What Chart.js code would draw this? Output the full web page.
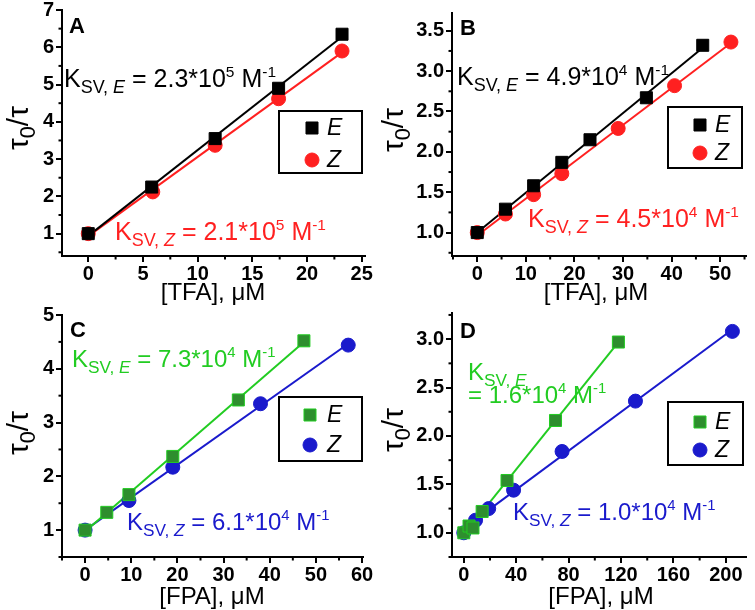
<!DOCTYPE html>
<html>
<head>
<meta charset="utf-8">
<script src="https://cdn.jsdelivr.net/npm/chart.js@4.4.0/dist/chart.umd.min.js"></script>
<style>
body { margin: 0; background: #fff; width: 755px; height: 610px; position: relative; overflow: hidden; }
canvas { position: absolute; }
</style>
</head>
<body>
<canvas id="cA" width="375" height="305" style="left:0;top:0"></canvas>
<canvas id="cB" width="380" height="305" style="left:375px;top:0"></canvas>
<canvas id="cC" width="375" height="310" style="left:0;top:300px"></canvas>
<canvas id="cD" width="380" height="310" style="left:375px;top:300px"></canvas>
<script>
// -------- DATA --------
// A : TFA, black E / red Z
const tfaE_A = [0, 5.8, 11.6, 17.4, 23.2];
const tauE_A = [1, 2.25, 3.55, 4.9, 6.35];
const tfaZ_A = [0, 5.9, 11.6, 17.4, 23.2];
const tauZ_A = [1, 2.12, 3.37, 4.62, 5.9];

// B : TFA
const tfaE_B = [0, 5.8, 11.6, 17.4, 23.2, 34.8, 46.4];
const tauE_B = [1, 1.29, 1.58, 1.87, 2.15, 2.67, 3.32];
const tfaZ_B = [0, 5.8, 11.6, 17.4, 29, 40.6, 52.2];
const tauZ_B = [1, 1.23, 1.47, 1.73, 2.29, 2.82, 3.36];

// C : FPA, green E / blue Z
const fpaE_C = [0, 4.7, 9.5, 19, 33.2, 47.4];
const tauE_C = [1, 1.33, 1.66, 2.37, 3.42, 4.52];
const fpaZ_C = [0, 9.5, 19, 38, 57];
const tauZ_C = [1, 1.55, 2.17, 3.35, 4.44];

// D : FPA
const fpaE_D = [0, 4, 7, 14, 33, 70, 118];
const tauE_D = [1, 1.07, 1.05, 1.22, 1.54, 2.16, 2.97];
const fpaZ_D = [0, 9, 19, 38, 75, 131, 205];
const tauZ_D = [1, 1.13, 1.25, 1.44, 1.84, 2.36, 3.08];

// axis [min, max, step]
const xAxisA = [-2.4, 25.3, 5],  yAxisA = [0.4, 7, 1];
const xAxisB = [-5.2, 55.2, 10], yAxisB = [0.71, 3.72, 0.5];
const xAxisC = [-5, 60.2, 10],   yAxisC = [0.5, 5, 1];
const xAxisD = [-9, 215, 40],    yAxisD = [0.75, 3.27, 0.5];

// Stern-Volmer constants [mantissa, exponent]
const ksvE = [["2.3", "5"], ["4.9", "4"], ["7.3", "4"], ["1.6", "4"]];
const ksvZ = [["2.1", "5"], ["4.5", "4"], ["6.1", "4"], ["1.0", "4"]];
const panelNames = ["A", "B", "C", "D"];
const xTitles = ["[TFA], \u03bcM", "[TFA], \u03bcM", "[FPA], \u03bcM", "[FPA], \u03bcM"];
const seriesNames = ["E", "Z"];

const FONT = '"Liberation Sans", Arial, sans-serif';
const BLACK = "#000", RED = "#ff2020", GREEN = "#22cc22", DGREEN = "#2e8e2e", BLUE = "#1a1acc";

// -------- HELPERS --------
function fit(xs, ys) {
    const n = xs.length;
    const mx = xs.reduce((a, b) => a + b, 0) / n;
    const my = ys.reduce((a, b) => a + b, 0) / n;
    let sxy = 0, sxx = 0;
    xs.forEach((x, i) => { sxy += (x - mx) * (ys[i] - my); sxx += (x - mx) * (x - mx); });
    const b = sxy / sxx;
    return { a: my - b * mx, b };
}

function richText(ctx, x, y, parts, size, color) {
    let cx = x;
    ctx.fillStyle = color;
    ctx.textAlign = "left";
    ctx.textBaseline = "alphabetic";
    parts.forEach(([t, k]) => {
        let s = size, dy = 0, st = "";
        if (k === "sub" || k === "subi") { s = size * 0.72; dy = size * 0.24; }
        if (k === "sup") { s = size * 0.62; dy = -size * 0.42; }
        if (k === "subi") st = "italic ";
        ctx.font = st + s + "px " + FONT;
        ctx.fillText(t, cx, y + dy);
        cx += ctx.measureText(t).width;
    });
}

function ksvParts(name, k) {
    return [["K", "n"], ["SV, ", "sub"], [name, "subi"], [" = " + k[0] + "*10", "n"], [k[1], "sup"], [" M", "n"], ["-1", "sup"]];
}

function marker(ctx, shape, x, y, r, fill, edge) {
    ctx.fillStyle = fill;
    ctx.strokeStyle = edge;
    ctx.lineWidth = 1;
    ctx.beginPath();
    if (shape === "rect") {
        const h = r / Math.SQRT2;
        ctx.rect(x - h, y - h, 2 * h, 2 * h);
    } else {
        ctx.arc(x, y, r, 0, Math.PI * 2);
    }
    ctx.fill();
    ctx.stroke();
}

// -------- PANELS --------
function makePanel(p) {
    const ds = [];
    p.series.forEach(s => {
        ds.push({
            data: s.x.map((v, i) => ({ x: v, y: s.y[i] })),
            pointStyle: s.shape, pointRadius: s.r, pointHoverRadius: s.r,
            backgroundColor: s.fill, borderColor: s.edge, borderWidth: 1,
            showLine: false
        });
    });
    // fitted straight lines under the markers
    p.series.forEach(s => {
        const f = fit(s.x, s.y);
        const x0 = Math.min(...s.x), x1 = Math.max(...s.x);
        ds.push({
            data: [{ x: x0, y: f.a + f.b * x0 }, { x: x1, y: f.a + f.b * x1 }],
            showLine: true, pointRadius: 0, borderColor: s.line, borderWidth: 2
        });
    });

    const axis = (r, fmt, pad, fitFn) => ({
        type: "linear", min: r[0], max: r[1],
        ticks: {
            stepSize: r[2], includeBounds: false, autoSkip: false, maxRotation: 0,
            color: BLACK, padding: pad,
            font: { family: FONT, size: 20, weight: "bold" },
            callback: v => fmt ? v.toFixed(1) : String(v)
        },
        grid: { drawOnChartArea: false, drawTicks: true, tickLength: 6, color: BLACK, lineWidth: 2 },
        border: { color: BLACK, width: 2 },
        afterFit: fitFn
    });

    const deco = {
        id: "deco" + p.name,
        afterDraw(chart) {
            const ctx = chart.ctx;
            ctx.save();
            // minor ticks
            ctx.strokeStyle = BLACK;
            ctx.lineWidth = 2;
            ["x", "y"].forEach(id => {
                const sc = chart.scales[id];
                const tv = sc.ticks.map(t => t.value);
                const step = tv[1] - tv[0];
                for (let v = tv[0] - step / 2; v <= sc.max; v += step) {
                    if (v < sc.min) continue;
                    const px = sc.getPixelForValue(v);
                    ctx.beginPath();
                    if (id === "x") { ctx.moveTo(px, sc.top); ctx.lineTo(px, sc.top + 3.5); }
                    else { ctx.moveTo(sc.right, px); ctx.lineTo(sc.right - 3.5, px); }
                    ctx.stroke();
                }
            });
            // panel letter
            ctx.fillStyle = BLACK;
            ctx.font = "bold 22px " + FONT;
            ctx.textAlign = "left";
            ctx.fillText(p.name, p.letter[0], p.letter[1]);
            // axis titles
            ctx.font = "24px " + FONT;
            ctx.textAlign = "center";
            ctx.fillText(p.xTitle, p.xt[0], p.xt[1]);
            ctx.save();
            ctx.translate(p.yt[0], p.yt[1]);
            ctx.rotate(-Math.PI / 2);
            ctx.font = "30px " + FONT;
            const w1 = ctx.measureText("\u03c4").width;
            ctx.font = "21.6px " + FONT;
            const w2 = ctx.measureText("0").width;
            ctx.font = "30px " + FONT;
            const w3 = ctx.measureText("/\u03c4").width;
            richText(ctx, -(w1 + w2 + w3) / 2, 10, [["\u03c4", "n"], ["0", "sub"], ["/\u03c4", "n"]], 30, BLACK);
            ctx.restore();
            // K_SV annotations
            p.notes.forEach(n => {
                if (n.lines) {
                    richText(ctx, n.x, n.y, [["K", "n"], ["SV, ", "sub"], [n.name, "subi"]], n.size, n.color);
                    richText(ctx, n.x, n.y + n.gap, [["= " + n.k[0] + "*10", "n"], [n.k[1], "sup"], [" M", "n"], ["-1", "sup"]], n.size, n.color);
                } else {
                    richText(ctx, n.x, n.y, ksvParts(n.name, n.k), n.size, n.color);
                }
            });
            // legend
            const L = p.legend;
            ctx.strokeStyle = BLACK;
            ctx.lineWidth = 2;
            ctx.strokeRect(L.x, L.y, L.w, L.h);
            p.series.forEach((s, i) => {
                const cy = L.y + L.row0 + i * L.dy;
                marker(ctx, s.shape, L.x + L.mx, cy, s.r, s.fill, s.edge);
                ctx.fillStyle = BLACK;
                ctx.font = "italic 23px " + FONT;
                ctx.textAlign = "left";
                ctx.textBaseline = "middle";
                ctx.fillText(seriesNames[i], L.x + L.tx, cy + 1);
                ctx.textBaseline = "alphabetic";
            });
            ctx.restore();
        }
    };

    new Chart(document.getElementById(p.id), {
        type: "scatter",
        data: { datasets: ds },
        options: {
            responsive: false, animation: false, devicePixelRatio: 1,
            layout: { padding: { top: p.pad[0], right: p.pad[1], bottom: 0, left: 0 } },
            plugins: { legend: { display: false }, tooltip: { enabled: false } },
            scales: {
                x: axis(p.xr, false, 0, s => { s.height = p.xh; s.paddingLeft = 0; s.paddingRight = 0; }),
                y: axis(p.yr, p.yfmt, 2, s => { s.width = p.yw; s.paddingTop = 0; s.paddingBottom = 0; })
            }
        },
        plugins: [deco]
    });
}

const sqr = (fill, edge, line, x, y) => ({ x, y, shape: "rect", r: 8.5, fill, edge, line });
const dot = (fill, edge, line, x, y) => ({ x, y, shape: "circle", r: 7, fill, edge, line });

makePanel({
    id: "cA", name: panelNames[0], xr: xAxisA, yr: yAxisA, yfmt: false,
    pad: [10, 10], yw: 62, xh: 49,
    series: [sqr(BLACK, BLACK, BLACK, tfaE_A, tauE_A), dot(RED, RED, RED, tfaZ_A, tauZ_A)],
    letter: [69, 33], xTitle: xTitles[0], xt: [213, 300], yt: [18, 128],
    notes: [
        { name: "E", k: ksvE[0], x: 64, y: 87, size: 25, color: BLACK },
        { name: "Z", k: ksvZ[0], x: 115, y: 240, size: 25, color: RED }
    ],
    legend: { x: 279, y: 111, w: 83, h: 62, mx: 33, tx: 48, row0: 17, dy: 32 }
});

makePanel({
    id: "cB", name: panelNames[1], xr: xAxisB, yr: yAxisB, yfmt: true,
    pad: [13, 3], yw: 77, xh: 49,
    series: [sqr(BLACK, BLACK, BLACK, tfaE_B, tauE_B), dot(RED, RED, RED, tfaZ_B, tauZ_B)],
    letter: [85, 35], xTitle: xTitles[1], xt: [221, 300], yt: [18, 130],
    notes: [
        { name: "E", k: ksvE[1], x: 82, y: 85, size: 25, color: BLACK },
        { name: "Z", k: ksvZ[1], x: 153, y: 227, size: 25, color: RED }
    ],
    legend: { x: 293, y: 107, w: 74, h: 61, mx: 32, tx: 47, row0: 18, dy: 28 }
});

makePanel({
    id: "cC", name: panelNames[2], xr: xAxisC, yr: yAxisC, yfmt: false,
    pad: [15, 12], yw: 62, xh: 53,
    series: [sqr(DGREEN, GREEN, GREEN, fpaE_C, tauE_C), dot(BLUE, BLUE, BLUE, fpaZ_C, tauZ_C)],
    letter: [70, 37], xTitle: xTitles[2], xt: [212, 304], yt: [18, 133],
    notes: [
        { name: "E", k: ksvE[2], x: 72, y: 67, size: 24, color: GREEN },
        { name: "Z", k: ksvZ[2], x: 127, y: 230, size: 24, color: BLUE }
    ],
    legend: { x: 279, y: 97, w: 83, h: 64, mx: 31, tx: 48, row0: 18, dy: 30 }
});

makePanel({
    id: "cD", name: panelNames[3], xr: xAxisD, yr: yAxisD, yfmt: true,
    pad: [13, 3], yw: 77, xh: 53,
    series: [sqr(DGREEN, GREEN, GREEN, fpaE_D, tauE_D), dot(BLUE, BLUE, BLUE, fpaZ_D, tauZ_D)],
    letter: [85, 38], xTitle: xTitles[3], xt: [226, 304], yt: [18, 130],
    notes: [
        { name: "E", k: ksvE[3], x: 93, y: 80, size: 24, color: GREEN, lines: true, gap: 23 },
        { name: "Z", k: ksvZ[3], x: 138, y: 220, size: 24, color: BLUE }
    ],
    legend: { x: 293, y: 102, w: 75, h: 63, mx: 32, tx: 47, row0: 20, dy: 28 }
});
</script>
</body>
</html>
